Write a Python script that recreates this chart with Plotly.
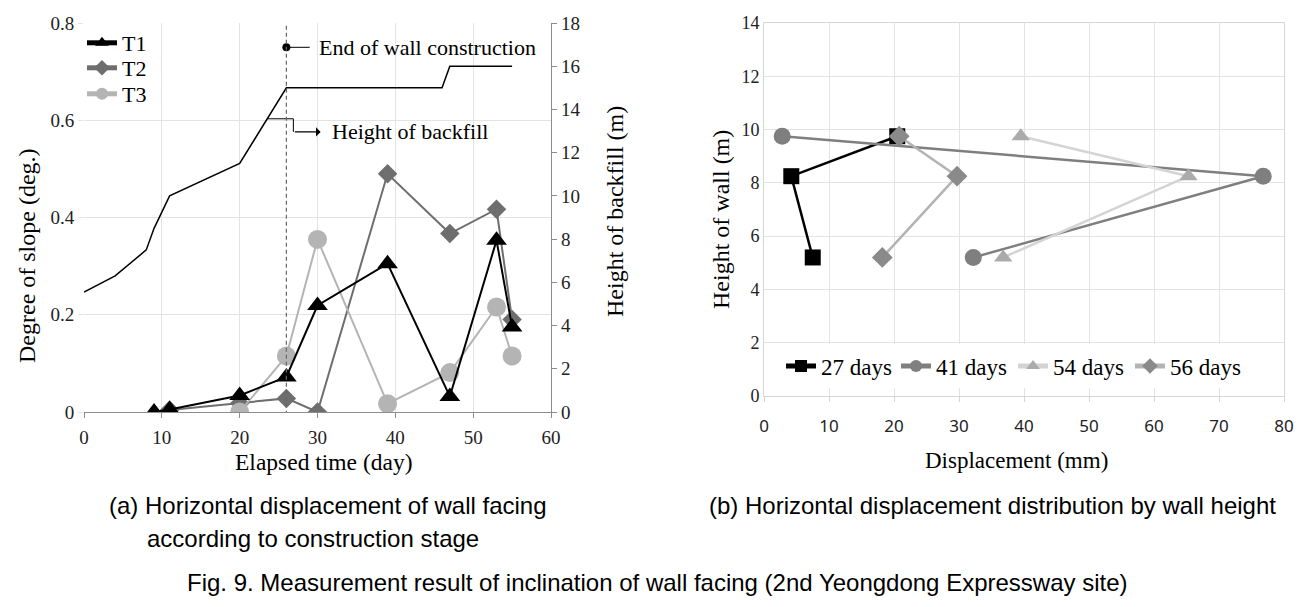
import plotly.graph_objects as go

W, H = 1315, 607
OFF = 8  # page body margin of the html page


def px2x(px):
    return (px - OFF) / W


def px2y(py):
    return 1 - (py - OFF) / H


# ---- (a) data ----
t1_day = [9, 11, 20, 26, 30, 39, 47, 53, 55]
t1_slope = [0.0, 0.005, 0.034, 0.072, 0.219, 0.305, 0.032, 0.353, 0.175]
t2_day = [11, 20, 26, 30, 39, 47, 53, 55]
t2_slope = [0.004, 0.018, 0.028, 0.0, 0.490, 0.367, 0.417, 0.190]
t3_day = [20, 26, 30, 39, 47, 53, 55]
t3_slope = [0.0, 0.115, 0.355, 0.017, 0.081, 0.216, 0.115]
fill_day = [0, 4, 8, 9, 11, 20, 26, 46, 47, 55]
fill_height = [5.55, 6.3, 7.5, 8.5, 10.0, 11.5, 15.0, 15.0, 16.0, 16.0]
end_wall_day = 26

# ---- (b) data ----
height_levels = [9.75, 8.25, 5.2]
disp_27 = [20.5, 4.2, 7.5]
disp_41 = [2.8, 76.8, 32.2]
disp_54 = [39.5, 65.3, 36.8]
disp_56 = [20.8, 29.7, 18.2]

x_ticks_a = [0, 10, 20, 30, 40, 50, 60]
y_ticks_a = [0, 0.2, 0.4, 0.6, 0.8]
y2_ticks_a = [0, 2, 4, 6, 8, 10, 12, 14, 16, 18]
x_ticks_b = [0, 10, 20, 30, 40, 50, 60, 70, 80]
y_ticks_b = [0, 2, 4, 6, 8, 10, 12, 14]

SERIF = "Liberation Serif, Times New Roman, serif"
SANS = "Liberation Sans, Arial, sans-serif"

fig = go.Figure()

# backfill height (right axis)
fig.add_trace(go.Scatter(x=fill_day, y=fill_height, mode="lines", xaxis="x", yaxis="y2",
                         line=dict(color="black", width=1.5), showlegend=False, hoverinfo="skip"))

fig.add_trace(go.Scatter(x=t2_day, y=t2_slope, mode="lines+markers", name="T2", legend="legend3",
                         line=dict(color="#6e6e6e", width=2),
                         marker=dict(symbol="diamond", size=15, color="#6e6e6e")))
fig.add_trace(go.Scatter(x=t3_day, y=t3_slope, mode="lines+markers", name="T3", legend="legend4",
                         line=dict(color="#b4b4b4", width=2),
                         marker=dict(symbol="circle", size=19, color="#b4b4b4")))
fig.add_trace(go.Scatter(x=t1_day, y=t1_slope, mode="lines+markers", name="T1", legend="legend",
                         line=dict(color="black", width=2),
                         marker=dict(symbol="triangle-up", size=18, color="black")))

# end of wall construction dot + leader
end_dot_y = 0.75
fig.add_trace(go.Scatter(x=[end_wall_day, 29.0], y=[end_dot_y, end_dot_y], mode="lines",
                         line=dict(color="black", width=1), showlegend=False, hoverinfo="skip"))
fig.add_trace(go.Scatter(x=[end_wall_day], y=[end_dot_y], mode="markers",
                         marker=dict(color="black", size=8), showlegend=False, hoverinfo="skip"))
# backfill leader polyline
fig.add_trace(go.Scatter(x=[23.5, 26.9, 26.9], y=[0.603, 0.603, 0.576], mode="lines",
                         line=dict(color="black", width=1), showlegend=False, hoverinfo="skip"))

# (b) traces
fig.add_trace(go.Scatter(x=disp_27, y=height_levels, mode="lines+markers", name="27 days",
                         xaxis="x3", yaxis="y3", legend="legend2",
                         line=dict(color="black", width=2.5),
                         marker=dict(symbol="square", size=16, color="black")))
fig.add_trace(go.Scatter(x=disp_41, y=height_levels, mode="lines+markers", name="41 days",
                         xaxis="x3", yaxis="y3", legend="legend5",
                         line=dict(color="#7f7f7f", width=2.5),
                         marker=dict(symbol="circle", size=17, color="#7f7f7f")))
fig.add_trace(go.Scatter(x=disp_54, y=height_levels, mode="lines+markers", name="54 days",
                         xaxis="x3", yaxis="y3", legend="legend6",
                         line=dict(color="#d4d4d4", width=2.5),
                         marker=dict(symbol="triangle-up", size=16, color="#ababab")))
fig.add_trace(go.Scatter(x=disp_56, y=height_levels, mode="lines+markers", name="56 days",
                         xaxis="x3", yaxis="y3", legend="legend7",
                         line=dict(color="#b3b3b3", width=2.5),
                         marker=dict(symbol="diamond", size=16, color="#8a8a8a")))

grid = "#e3e3e3"
dom_ax = [px2x(84), px2x(551)]
dom_ay = [px2y(412), px2y(23)]
dom_bx = [px2x(764), px2x(1284)]
dom_by = [px2y(396), px2y(23)]


def one_legend(marker_cx, cy, size):
    return dict(x=px2x(marker_cx - 25), y=px2y(cy), xanchor="left", yanchor="middle",
                bgcolor="rgba(255,255,255,0)", font=dict(family=SERIF, size=size, color="black"),
                itemsizing="constant")


fig.update_layout(
    width=W, height=H, margin=dict(l=0, r=0, t=0, b=0, autoexpand=False),
    paper_bgcolor="white", plot_bgcolor="white",
    xaxis=dict(domain=dom_ax, range=[0, 60], tickvals=x_ticks_a, showgrid=True, gridcolor=grid,
               showline=True, linecolor="#8c8c8c", linewidth=1.2, ticks="outside", ticklen=5,
               tickcolor="#8c8c8c", zeroline=False, anchor="y", automargin=False,
               ticklabelstandoff=3, tickfont=dict(family=SERIF, size=19, color="#222")),
    yaxis=dict(domain=dom_ay, range=[0, 0.8], tickvals=y_ticks_a, ticktext=["0", "0.2", "0.4", "0.6", "0.8"],
               showgrid=True, gridcolor=grid, zeroline=False, ticks="outside", ticklen=5,
               tickcolor=grid, anchor="x", automargin=False,
               tickfont=dict(family=SERIF, size=19, color="#222")),
    yaxis2=dict(range=[0, 18], tickvals=y2_ticks_a, overlaying="y", side="right", anchor="x",
                showgrid=False, zeroline=False, showline=True, linecolor="#8c8c8c", linewidth=1.2,
                ticks="outside", ticklen=5, tickcolor="#8c8c8c", automargin=False,
                tickfont=dict(family=SERIF, size=19, color="#222")),
    xaxis3=dict(domain=dom_bx, range=[0, 80], tickvals=x_ticks_b, anchor="y3", showgrid=True,
                gridcolor=grid, showline=True, mirror=True, linecolor="#d6d6d6", zeroline=False,
                ticks="outside", ticklen=5, tickcolor="#d6d6d6", automargin=False,
                ticklabelstandoff=10,
                tickfont=dict(family="Noto Sans, DejaVu Sans, sans-serif", size=17, color="#222")),
    yaxis3=dict(domain=dom_by, range=[0, 14], tickvals=y_ticks_b, anchor="x3", showgrid=True,
                gridcolor=grid, showline=True, mirror=True, linecolor="#d6d6d6", zeroline=False,
                ticks="", automargin=False, tickfont=dict(family=SERIF, size=18, color="#222")),
    legend=one_legend(107, 43, 22),
    legend3=one_legend(107, 68, 22),
    legend4=one_legend(107, 94, 22),
    legend2=one_legend(806, 366, 23),
    legend5=one_legend(921, 366, 23),
    legend6=one_legend(1038, 366, 23),
    legend7=one_legend(1155, 366, 23),
    showlegend=True,
)

# white band behind legend (b), above gridlines
fig.add_shape(type="rect", xref="x3", yref="y3", x0=0.2, x1=79.8, y0=0.3, y1=1.95,
              fillcolor="white", line=dict(width=0), layer="between")
# end of wall construction dashed line
fig.add_shape(type="line", xref="x", yref="y", x0=end_wall_day, x1=end_wall_day, y0=-0.02, y1=0.8,
              line=dict(color="#666", width=1.2, dash="4px,3px"))

ann = []
ann.append(dict(x=29.9, y=end_dot_y, xref="x", yref="y", text="End of wall construction", showarrow=False,
                xanchor="left", yanchor="middle", font=dict(family=SERIF, size=22, color="black")))
ann.append(dict(x=30.4, y=0.576, ax=26.9, ay=0.576, xref="x", yref="y", axref="x", ayref="y", text="",
                showarrow=True, arrowhead=1, arrowsize=1.4, arrowwidth=1.1, arrowcolor="black"))
ann.append(dict(x=31.6, y=0.576, xref="x", yref="y", text="Height of backfill", showarrow=False,
                xanchor="left", yanchor="middle", font=dict(family=SERIF, size=22, color="black")))


def paper_text(x, y, text, size, family=SERIF, angle=0, xanchor="center"):
    ann.append(dict(x=px2x(x), y=px2y(y), xref="paper", yref="paper", text=text, showarrow=False,
                    xanchor=xanchor, yanchor="middle", textangle=angle,
                    font=dict(family=family, size=size, color="black")))


# axis titles
paper_text(324, 462, "Elapsed time (day)", 23.5)
paper_text(27, 256, "Degree of slope (deg.)", 24, angle=-90)
paper_text(615, 212, "Height of backfill (m)", 24, angle=-90)
paper_text(1016, 460, "Displacement (mm)", 23)
paper_text(721, 220, "Height of wall (m)", 24, angle=-90)
# captions
paper_text(107, 505, "(a) Horizontal displacement of wall facing", 24, SANS, xanchor="left")
paper_text(145, 538, "according to construction stage", 24, SANS, xanchor="left")
paper_text(707, 505, "(b) Horizontal displacement distribution by wall height", 24, SANS, xanchor="left")
paper_text(657, 582, "Fig. 9. Measurement result of inclination of wall facing (2nd Yeongdong Expressway site)",
           24, SANS)
fig.update_layout(annotations=ann)

fig.write_html("out.html")
